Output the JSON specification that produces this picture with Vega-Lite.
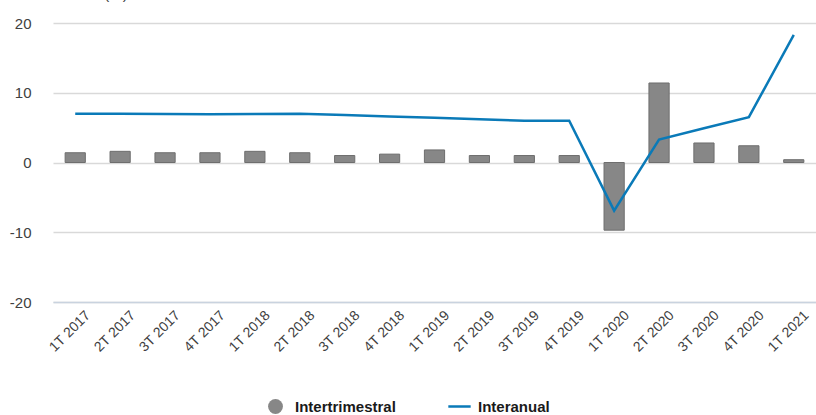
{
  "$schema": "https://vega.github.io/schema/vega-lite/v6.json",
  "autosize": {"type": "none"},
  "width": 763,
  "height": 279,
  "padding": {"left": 53, "top": 23, "right": 0, "bottom": 113},
  "background": "white",
  "title": {"text": "(%)", "anchor": "start", "offset": 0, "dx": 95, "dy": -14, "fontSize": 15, "fontWeight": "normal", "color": "#404040", "font": "Liberation Sans"},
  "config": {
    "view": {"stroke": null},
    "font": "Liberation Sans",
    "axis": {"labelFont": "Liberation Sans", "labelColor": "#404040"}
  },
  "data": {
    "values": [
      {"q": "1T 2017", "inter": 1.4, "anual": 7.0},
      {"q": "2T 2017", "inter": 1.6, "anual": 7.0},
      {"q": "3T 2017", "inter": 1.4, "anual": 6.95},
      {"q": "4T 2017", "inter": 1.4, "anual": 6.9},
      {"q": "1T 2018", "inter": 1.6, "anual": 6.95},
      {"q": "2T 2018", "inter": 1.4, "anual": 7.0},
      {"q": "3T 2018", "inter": 1.0, "anual": 6.8},
      {"q": "4T 2018", "inter": 1.2, "anual": 6.6},
      {"q": "1T 2019", "inter": 1.8, "anual": 6.4},
      {"q": "2T 2019", "inter": 1.0, "anual": 6.2},
      {"q": "3T 2019", "inter": 1.0, "anual": 6.0},
      {"q": "4T 2019", "inter": 1.0, "anual": 6.0},
      {"q": "1T 2020", "inter": -9.7, "anual": -6.9},
      {"q": "2T 2020", "inter": 11.4, "anual": 3.3},
      {"q": "3T 2020", "inter": 2.8, "anual": 4.9},
      {"q": "4T 2020", "inter": 2.4, "anual": 6.5},
      {"q": "1T 2021", "inter": 0.4, "anual": 18.3}
    ]
  },
  "encoding": {
    "x": {
      "field": "q", "type": "nominal", "sort": null, "title": null,
      "scale": {"paddingInner": 0.55, "paddingOuter": 0.27},
      "axis": {"labelAngle": -45, "labelFontSize": 14, "ticks": false, "domain": true, "domainColor": "#c9d3df", "domainWidth": 1.5, "labelPadding": 6, "labelOffset": 8, "grid": false}
    }
  },
  "layer": [
    {
      "mark": {"type": "bar", "stroke": "#6e6e6e", "strokeWidth": 1},
      "encoding": {
        "y": {
          "field": "inter", "type": "quantitative", "title": null,
          "scale": {"domain": [-20, 20], "nice": false},
          "axis": {"values": [-20, -10, 0, 10, 20], "labelExpr": "datum.value + ''", "labelFontSize": 15, "ticks": false, "domain": false, "labelPadding": 22, "grid": true, "gridColor": "#d9d9d9", "gridWidth": 1.5}
        },
        "fill": {
          "datum": "Intertrimestral", "type": "nominal",
          "scale": {"range": ["#878787"]},
          "legend": {"title": null, "orient": "none", "legendX": 215, "legendY": 376, "symbolType": "circle", "symbolSize": 220, "symbolStrokeWidth": 0, "labelFontSize": 15, "labelFontWeight": "bold", "labelColor": "#1a1a1a", "labelOffset": 12}
        }
      }
    },
    {
      "mark": {"type": "line", "strokeWidth": 2.5},
      "encoding": {
        "y": {"field": "anual", "type": "quantitative", "scale": {"domain": [-20, 20], "nice": false}},
        "stroke": {
          "datum": "Interanual", "type": "nominal",
          "scale": {"range": ["#0a7ab8"]},
          "legend": {"title": null, "orient": "none", "legendX": 394, "legendY": 371, "symbolType": "stroke", "symbolSize": 500, "symbolStrokeWidth": 2.5, "labelFontSize": 15, "labelFontWeight": "bold", "labelColor": "#1a1a1a", "labelOffset": 6}
        }
      }
    }
  ],
  "resolve": {"scale": {"y": "shared"}}
}
